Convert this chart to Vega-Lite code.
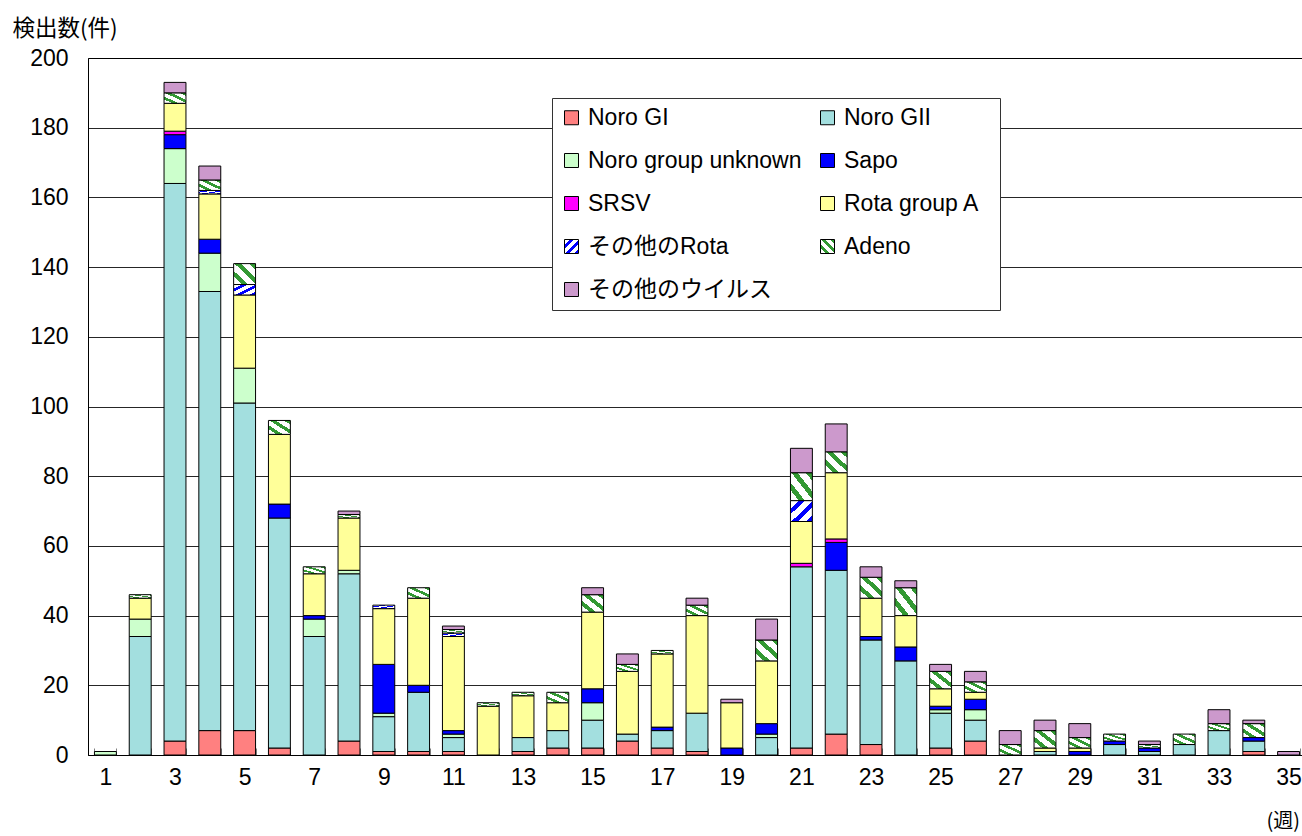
{
  "$schema": "https://vega.github.io/schema/vega-lite/v6.json",
  "width": 1218,
  "height": 697,
  "autosize": {"type": "none"},
  "padding": {"left": 88, "top": 58, "right": 0, "bottom": 81},
  "background": "white",
  "config": {
    "font": "Liberation Sans, Noto Sans CJK JP",
    "view": {"stroke": "black", "strokeWidth": 1}
  },
  "data": {
    "values": [
      {"week": 1, "type": "Noro group unknown", "n": 1},
      {"week": 2, "type": "Noro GII", "n": 34}, {"week": 2, "type": "Noro group unknown", "n": 5}, {"week": 2, "type": "Rota group A", "n": 6}, {"week": 2, "type": "Adeno", "n": 1},
      {"week": 3, "type": "Noro GI", "n": 4}, {"week": 3, "type": "Noro GII", "n": 160}, {"week": 3, "type": "Noro group unknown", "n": 10}, {"week": 3, "type": "Sapo", "n": 4}, {"week": 3, "type": "SRSV", "n": 1}, {"week": 3, "type": "Rota group A", "n": 8}, {"week": 3, "type": "Adeno", "n": 3}, {"week": 3, "type": "その他のウイルス", "n": 3},
      {"week": 4, "type": "Noro GI", "n": 7}, {"week": 4, "type": "Noro GII", "n": 126}, {"week": 4, "type": "Noro group unknown", "n": 11}, {"week": 4, "type": "Sapo", "n": 4}, {"week": 4, "type": "Rota group A", "n": 13}, {"week": 4, "type": "その他のRota", "n": 1}, {"week": 4, "type": "Adeno", "n": 3}, {"week": 4, "type": "その他のウイルス", "n": 4},
      {"week": 5, "type": "Noro GI", "n": 7}, {"week": 5, "type": "Noro GII", "n": 94}, {"week": 5, "type": "Noro group unknown", "n": 10}, {"week": 5, "type": "Rota group A", "n": 21}, {"week": 5, "type": "その他のRota", "n": 3}, {"week": 5, "type": "Adeno", "n": 6},
      {"week": 6, "type": "Noro GI", "n": 2}, {"week": 6, "type": "Noro GII", "n": 66}, {"week": 6, "type": "Sapo", "n": 4}, {"week": 6, "type": "Rota group A", "n": 20}, {"week": 6, "type": "Adeno", "n": 4},
      {"week": 7, "type": "Noro GII", "n": 34}, {"week": 7, "type": "Noro group unknown", "n": 5}, {"week": 7, "type": "Sapo", "n": 1}, {"week": 7, "type": "Rota group A", "n": 12}, {"week": 7, "type": "Adeno", "n": 2},
      {"week": 8, "type": "Noro GI", "n": 4}, {"week": 8, "type": "Noro GII", "n": 48}, {"week": 8, "type": "Noro group unknown", "n": 1}, {"week": 8, "type": "Rota group A", "n": 15}, {"week": 8, "type": "Adeno", "n": 1}, {"week": 8, "type": "その他のウイルス", "n": 1},
      {"week": 9, "type": "Noro GI", "n": 1}, {"week": 9, "type": "Noro GII", "n": 10}, {"week": 9, "type": "Noro group unknown", "n": 1}, {"week": 9, "type": "Sapo", "n": 14}, {"week": 9, "type": "Rota group A", "n": 16}, {"week": 9, "type": "その他のRota", "n": 1},
      {"week": 10, "type": "Noro GI", "n": 1}, {"week": 10, "type": "Noro GII", "n": 17}, {"week": 10, "type": "Sapo", "n": 2}, {"week": 10, "type": "Rota group A", "n": 25}, {"week": 10, "type": "Adeno", "n": 3},
      {"week": 11, "type": "Noro GI", "n": 1}, {"week": 11, "type": "Noro GII", "n": 4}, {"week": 11, "type": "Noro group unknown", "n": 1}, {"week": 11, "type": "Sapo", "n": 1}, {"week": 11, "type": "Rota group A", "n": 27}, {"week": 11, "type": "その他のRota", "n": 1}, {"week": 11, "type": "Adeno", "n": 1}, {"week": 11, "type": "その他のウイルス", "n": 1},
      {"week": 12, "type": "Rota group A", "n": 14}, {"week": 12, "type": "Adeno", "n": 1},
      {"week": 13, "type": "Noro GI", "n": 1}, {"week": 13, "type": "Noro GII", "n": 4}, {"week": 13, "type": "Rota group A", "n": 12}, {"week": 13, "type": "Adeno", "n": 1},
      {"week": 14, "type": "Noro GI", "n": 2}, {"week": 14, "type": "Noro GII", "n": 5}, {"week": 14, "type": "Rota group A", "n": 8}, {"week": 14, "type": "Adeno", "n": 3},
      {"week": 15, "type": "Noro GI", "n": 2}, {"week": 15, "type": "Noro GII", "n": 8}, {"week": 15, "type": "Noro group unknown", "n": 5}, {"week": 15, "type": "Sapo", "n": 4}, {"week": 15, "type": "Rota group A", "n": 22}, {"week": 15, "type": "Adeno", "n": 5}, {"week": 15, "type": "その他のウイルス", "n": 2},
      {"week": 16, "type": "Noro GI", "n": 4}, {"week": 16, "type": "Noro GII", "n": 2}, {"week": 16, "type": "Rota group A", "n": 18}, {"week": 16, "type": "Adeno", "n": 2}, {"week": 16, "type": "その他のウイルス", "n": 3},
      {"week": 17, "type": "Noro GI", "n": 2}, {"week": 17, "type": "Noro GII", "n": 5}, {"week": 17, "type": "Sapo", "n": 1}, {"week": 17, "type": "Rota group A", "n": 21}, {"week": 17, "type": "Adeno", "n": 1},
      {"week": 18, "type": "Noro GI", "n": 1}, {"week": 18, "type": "Noro GII", "n": 11}, {"week": 18, "type": "Rota group A", "n": 28}, {"week": 18, "type": "Adeno", "n": 3}, {"week": 18, "type": "その他のウイルス", "n": 2},
      {"week": 19, "type": "Sapo", "n": 2}, {"week": 19, "type": "Rota group A", "n": 13}, {"week": 19, "type": "その他のウイルス", "n": 1},
      {"week": 20, "type": "Noro GII", "n": 5}, {"week": 20, "type": "Noro group unknown", "n": 1}, {"week": 20, "type": "Sapo", "n": 3}, {"week": 20, "type": "Rota group A", "n": 18}, {"week": 20, "type": "Adeno", "n": 6}, {"week": 20, "type": "その他のウイルス", "n": 6},
      {"week": 21, "type": "Noro GI", "n": 2}, {"week": 21, "type": "Noro GII", "n": 52}, {"week": 21, "type": "SRSV", "n": 1}, {"week": 21, "type": "Rota group A", "n": 12}, {"week": 21, "type": "その他のRota", "n": 6}, {"week": 21, "type": "Adeno", "n": 8}, {"week": 21, "type": "その他のウイルス", "n": 7},
      {"week": 22, "type": "Noro GI", "n": 6}, {"week": 22, "type": "Noro GII", "n": 47}, {"week": 22, "type": "Sapo", "n": 8}, {"week": 22, "type": "SRSV", "n": 1}, {"week": 22, "type": "Rota group A", "n": 19}, {"week": 22, "type": "Adeno", "n": 6}, {"week": 22, "type": "その他のウイルス", "n": 8},
      {"week": 23, "type": "Noro GI", "n": 3}, {"week": 23, "type": "Noro GII", "n": 30}, {"week": 23, "type": "Sapo", "n": 1}, {"week": 23, "type": "Rota group A", "n": 11}, {"week": 23, "type": "Adeno", "n": 6}, {"week": 23, "type": "その他のウイルス", "n": 3},
      {"week": 24, "type": "Noro GII", "n": 27}, {"week": 24, "type": "Sapo", "n": 4}, {"week": 24, "type": "Rota group A", "n": 9}, {"week": 24, "type": "Adeno", "n": 8}, {"week": 24, "type": "その他のウイルス", "n": 2},
      {"week": 25, "type": "Noro GI", "n": 2}, {"week": 25, "type": "Noro GII", "n": 10}, {"week": 25, "type": "Noro group unknown", "n": 1}, {"week": 25, "type": "Sapo", "n": 1}, {"week": 25, "type": "Rota group A", "n": 5}, {"week": 25, "type": "Adeno", "n": 5}, {"week": 25, "type": "その他のウイルス", "n": 2},
      {"week": 26, "type": "Noro GI", "n": 4}, {"week": 26, "type": "Noro GII", "n": 6}, {"week": 26, "type": "Noro group unknown", "n": 3}, {"week": 26, "type": "Sapo", "n": 3}, {"week": 26, "type": "Rota group A", "n": 2}, {"week": 26, "type": "Adeno", "n": 3}, {"week": 26, "type": "その他のウイルス", "n": 3},
      {"week": 27, "type": "Adeno", "n": 3}, {"week": 27, "type": "その他のウイルス", "n": 4},
      {"week": 28, "type": "Noro GII", "n": 1}, {"week": 28, "type": "Rota group A", "n": 1}, {"week": 28, "type": "Adeno", "n": 5}, {"week": 28, "type": "その他のウイルス", "n": 3},
      {"week": 29, "type": "Sapo", "n": 1}, {"week": 29, "type": "Rota group A", "n": 1}, {"week": 29, "type": "Adeno", "n": 3}, {"week": 29, "type": "その他のウイルス", "n": 4},
      {"week": 30, "type": "Noro GII", "n": 3}, {"week": 30, "type": "Sapo", "n": 1}, {"week": 30, "type": "Adeno", "n": 2},
      {"week": 31, "type": "Noro GII", "n": 1}, {"week": 31, "type": "Sapo", "n": 1}, {"week": 31, "type": "Adeno", "n": 1}, {"week": 31, "type": "その他のウイルス", "n": 1},
      {"week": 32, "type": "Noro GII", "n": 3}, {"week": 32, "type": "Adeno", "n": 3},
      {"week": 33, "type": "Noro GII", "n": 7}, {"week": 33, "type": "Adeno", "n": 2}, {"week": 33, "type": "その他のウイルス", "n": 4},
      {"week": 34, "type": "Noro GI", "n": 1}, {"week": 34, "type": "Noro GII", "n": 3}, {"week": 34, "type": "Sapo", "n": 1}, {"week": 34, "type": "Adeno", "n": 4}, {"week": 34, "type": "その他のウイルス", "n": 1},
      {"week": 35, "type": "その他のウイルス", "n": 1}
    ]
  },
  "transform": [
    {"calculate": "indexof(['Noro GI', 'Noro GII', 'Noro group unknown', 'Sapo', 'SRSV', 'Rota group A', 'その他のRota', 'Adeno', 'その他のウイルス'], datum.type)", "as": "stackOrder"}
  ],
  "mark": {"type": "bar", "stroke": "black", "strokeWidth": 1},
  "encoding": {
    "x": {
      "field": "week",
      "type": "ordinal",
      "scale": {"paddingInner": 0.37, "paddingOuter": 0.185},
      "axis": {
        "labelAngle": 0,
        "labelFontSize": 23,
        "labelColor": "black",
        "labelExpr": "datum.value % 2 == 1 ? datum.label : ''",
        "tickBand": "extent",
        "tickSize": -7,
        "tickColor": "#808080",
        "domainColor": "black",
        "labelPadding": 18,
        "title": "(週)",
        "titleFontSize": 20,
        "titleFontWeight": "normal",
        "titleColor": "black",
        "titleFont": "Noto Sans CJK JP",
        "titleAnchor": "start",
        "titleAlign": "left",
        "titleBaseline": "middle",
        "titleX": 1178,
        "titleY": 66
      }
    },
    "y": {
      "field": "n",
      "type": "quantitative",
      "stack": "zero",
      "scale": {"domain": [0, 200], "nice": false},
      "axis": {
        "values": [0, 20, 40, 60, 80, 100, 120, 140, 160, 180, 200],
        "grid": true,
        "gridColor": "black",
        "gridOpacity": 0.85,
        "domain": false,
        "ticks": false,
        "labelFontSize": 23,
        "labelColor": "black",
        "labelPadding": 20,
        "title": "検出数(件)",
        "titleFont": "Noto Sans CJK JP",
        "titleFontSize": 22.5,
        "titleFontWeight": "normal",
        "titleColor": "black",
        "titleAngle": 0,
        "titleAlign": "left",
        "titleBaseline": "middle",
        "titleX": -76,
        "titleY": -30
      }
    },
    "order": {"field": "stackOrder", "type": "quantitative", "sort": "ascending"},
    "color": {
      "field": "type",
      "type": "nominal",
      "scale": {
        "domain": ["Noro GI", "Noro group unknown", "SRSV", "その他のRota", "その他のウイルス", "Noro GII", "Sapo", "Rota group A", "Adeno"],
        "range": [
          "#FF8080", "#CCFFCC", "#FF00FF",
          {"expr": "{gradient: 'linear', x1: 0, y1: 0, x2: 1, y2: 1, stops: [{offset: 0, color: 'white'}, {offset: 0.19, color: 'white'}, {offset: 0.19, color: '#0000FF'}, {offset: 0.33, color: '#0000FF'}, {offset: 0.33, color: 'white'}, {offset: 0.52, color: 'white'}, {offset: 0.52, color: '#0000FF'}, {offset: 0.66, color: '#0000FF'}, {offset: 0.66, color: 'white'}, {offset: 0.85, color: 'white'}, {offset: 0.85, color: '#0000FF'}, {offset: 1, color: '#0000FF'}]}"},
          "#CC99CC", "#A3DFDF", "#0000FF", "#FFFF99",
          {"expr": "{gradient: 'linear', x1: 0, y1: 1, x2: 1, y2: 0, stops: [{offset: 0, color: 'white'}, {offset: 0.19, color: 'white'}, {offset: 0.19, color: '#339933'}, {offset: 0.33, color: '#339933'}, {offset: 0.33, color: 'white'}, {offset: 0.52, color: 'white'}, {offset: 0.52, color: '#339933'}, {offset: 0.66, color: '#339933'}, {offset: 0.66, color: 'white'}, {offset: 0.85, color: 'white'}, {offset: 0.85, color: '#339933'}, {offset: 1, color: '#339933'}]}"}
        ]
      },
      "legend": {
        "orient": "none",
        "legendX": 464,
        "legendY": 40,
        "columns": 2,
        "gridAlign": "all",
        "title": "\u3000\u3000\u3000",
        "titleOrient": "right",
        "titleFontSize": 21,
        "titlePadding": 12,
        "labelFontSize": 23,
        "labelColor": "black",
        "labelLimit": 400,
        "labelOffset": 5,
        "symbolType": "square",
        "symbolSize": 196,
        "symbolStrokeColor": "black",
        "symbolStrokeWidth": 1,
        "symbolOpacity": 1,
        "rowPadding": 19,
        "columnPadding": 14,
        "padding": 8,
        "strokeColor": "#333333",
        "fillColor": "white"
      }
    }
  }
}
